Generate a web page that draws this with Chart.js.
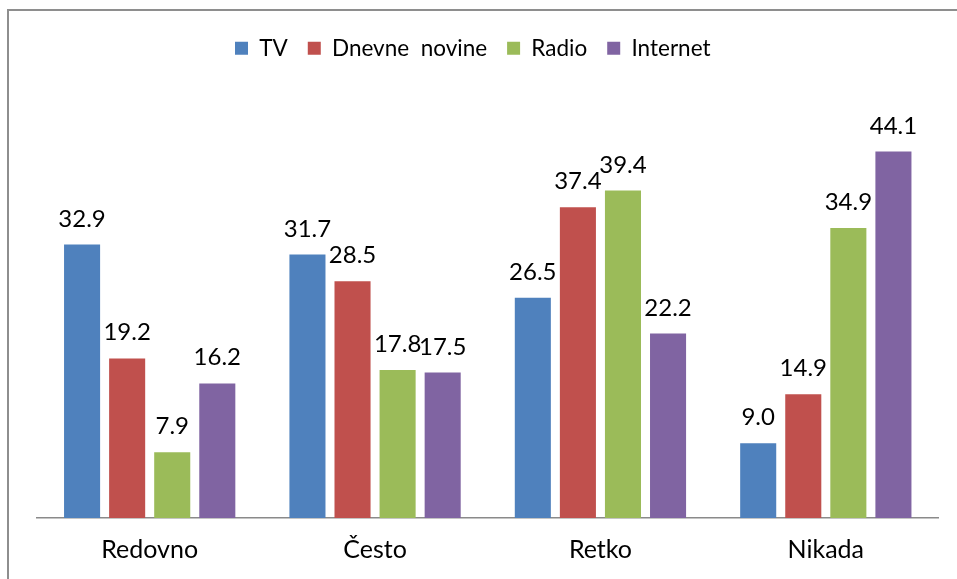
<!DOCTYPE html>
<html>
<head>
<meta charset="utf-8">
<script src="https://cdn.jsdelivr.net/npm/chart.js@4"></script>
<style>
  html, body { margin: 0; padding: 0; background: #fff; }
  #wrap { position: relative; width: 957px; height: 579px; overflow: hidden; }
  #frame { position: absolute; left: 7px; top: 9px; width: 1000px; height: 600px;
           border-left: 2px solid #8e8e8e; border-top: 2px solid #8e8e8e; }
  #chart { position: absolute; left: 0; top: 0; }
</style>
</head>
<body>
<div id="wrap">
  <div id="frame"></div>
  <canvas id="chart" width="957" height="579"></canvas>
</div>
<script>
// ---- Data ----
const categories = ['Redovno', 'Često', 'Retko', 'Nikada'];
const seriesNames = ['TV', 'Dnevne  novine', 'Radio', 'Internet'];
const tvValues = [32.9, 31.7, 26.5, 9.0];
const novineValues = [19.2, 28.5, 37.4, 14.9];
const radioValues = [7.9, 17.8, 39.4, 34.9];
const internetValues = [16.2, 17.5, 22.2, 44.1];
const yMin = 0;
const yMax = 50;

// ---- Style ----
const FONT = 'Lato, "Open Sans", sans-serif';
const colors = ['#4f81bd', '#c0504d', '#9bbb59', '#8064a2'];

// Value labels above each bar (Excel "outside end" style)
const valueLabels = {
  id: 'valueLabels',
  afterDatasetsDraw(chart) {
    const ctx = chart.ctx;
    ctx.save();
    ctx.font = '24px ' + FONT;
    ctx.fillStyle = '#000';
    ctx.textAlign = 'center';
    ctx.textBaseline = 'alphabetic';
    chart.data.datasets.forEach((ds, di) => {
      const meta = chart.getDatasetMeta(di);
      meta.data.forEach((bar, i) => {
        ctx.fillText(ds.data[i].toFixed(1), bar.x, bar.y - 18);
      });
    });
    ctx.restore();
  }
};

// Extra room under the legend, and nudge it a bit left like the original
const legendSpacing = {
  id: 'legendSpacing',
  beforeInit(chart) {
    const origFit = chart.legend.fit;
    chart.legend.fit = function () {
      origFit.bind(chart.legend)();
      this.height += 33;
    };
  },
  afterLayout(chart) {
    chart.legend.left -= 15;
    chart.legend.right -= 15;
  }
};

const seriesValues = [tvValues, novineValues, radioValues, internetValues];

new Chart(document.getElementById('chart'), {
  type: 'bar',
  data: {
    labels: categories,
    datasets: seriesNames.map((name, i) => ({
      label: name,
      data: seriesValues[i],
      backgroundColor: colors[i],
      borderWidth: 0,
      categoryPercentage: 0.8,
      barPercentage: 0.8,
    })),
  },
  options: {
    responsive: false,
    animation: false,
    devicePixelRatio: 1,
    layout: { padding: { left: 37, right: 18.5, top: 17, bottom: -2 } },
    plugins: {
      legend: {
        position: 'top',
        labels: {
          color: '#000',
          font: { family: FONT, size: 22.5 },
          boxWidth: 13,
          boxHeight: 13,
          padding: 20,
        },
      },
      tooltip: { enabled: false },
    },
    scales: {
      x: {
        grid: { display: false, drawTicks: false },
        border: { display: true, color: '#8a8a8a', width: 1.5 },
        ticks: { color: '#000', font: { family: FONT, size: 25 }, padding: 16.5 },
      },
      y: {
        display: false,
        min: yMin,
        max: yMax,
      },
    },
  },
  plugins: [valueLabels, legendSpacing],
});
</script>
</body>
</html>
